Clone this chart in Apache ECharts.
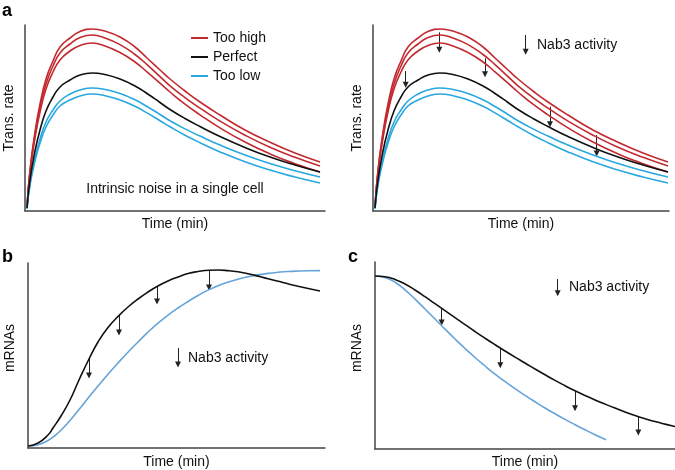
<!DOCTYPE html>
<html>
<head>
<meta charset="utf-8">
<script src="https://cdn.jsdelivr.net/npm/echarts@6/dist/echarts.min.js"></script>
<style>html,body{margin:0;padding:0;background:#fff}#chart{width:675px;height:470px}</style>
</head>
<body>
<div id="chart"></div>
<script>
// ---------- Panel a (transcription rate vs time) ----------
const aTime   = [2,5,10,15,21,28,35,45,55,67,80,95,110,122,135,145,160,175,195,220,245,270,295];
const aHigh1  = [4,41,79,107,132,150,164,173,179.5,182,180,174,164,153,141,132,120,109,96,81,68.8,58,49];
const aHigh2  = [4,40,76,103,127,145,158,167,173.4,176,173.1,166.4,156.5,146.4,134.4,125.2,113.4,102.9,89.9,75.8,63.7,53.7,45];
const aHigh3  = [4,38,73,99,122,139,151,160,165.5,168,165.1,158.5,149,139.2,127.8,119,106.8,96.2,83.1,69,57.1,47.3,39];
const aPerfect= [3,31,60,81,100,114,124,131,136,138,136.5,132,125,117.5,108.5,101.5,92.5,84.5,74.5,63.5,54,46,39];
const aLow1   = [3,28,53,72,89,101,110,117,121,123,121.5,117.5,111.2,104.5,96.5,90.2,82.1,74.9,65.9,56,47.5,40.3,34];
const aLow2   = [2,26,50,68,84,96,105,111,115,117,115.3,111,104.7,98.1,90.3,84.2,75.8,68.3,59.1,49.2,40.9,34,28];
const legendNames = ['Too high','Perfect','Too low'];
// arrows in panel a (right)
const aArrowX    = [32.7,66.3,112,177,223.7];
const aArrowFrom = [140,178.7,152.7,104.3,76];
const aArrowTo   = [123.7,158.7,134.3,84.3,55];
const aKeyArrow  = [152.7,176,156.7];

// ---------- Panel b (mRNAs vs time) ----------
const bTimeBlack = [0,10,20,25,33,42,51,61,70,80,91,100,110,120,129,140,150,160,170,181,190,200,210,220,227,240,255,270,292];
const bBlack     = [2,5,13,20,32,48,68,89,106,120.5,132.5,141,149,156,161.5,167,171,174.5,176.5,177.8,178,177.4,176.2,174.3,172.6,169.2,165.5,161.7,157];
const bTimeBlue  = [0,10,20,30,40,50,60,70,80,90,100,110,120,130,140,150,160,170,180,190,200,210,220,230,240,250,260,270,280,292];
const bBlue      = [2,3.3,7.5,15,25.3,37.3,49.8,62,73.8,85,95.8,106,115.8,124.8,132.8,140,146.5,152.5,157.9,162.3,165.8,168.8,171.2,173.1,174.6,175.7,176.5,177,177.3,177.4];
const bArrowX    = [61,91,129,181];
const bArrowFrom = [89,132.5,161.5,177.8];
const bArrowTo   = [70,113,144,158];
const bKeyArrow  = [150,100,81];

// ---------- Panel c (mRNAs vs time) ----------
const cTimeBlack = [0,10,20,30,40,50,60,70,80,90,100,110,120,130,140,150,160,170,180,190,200,210,220,230,240,250,260,270,280,290,300];
const cBlack     = [173,172.3,169.6,165,159,152.3,145.3,138.3,131.3,124.4,117.5,110.8,104.3,98,91.9,86,80,74.2,68.6,63.3,58.2,53.5,49.1,44.9,40.9,37.1,33.5,30.3,27.4,24.9,22.5];
const cTimeBlue  = [0,10,20,30,40,50,60,70,80,90,100,110,120,130,140,150,160,170,180,190,200,210,220,231];
const cBlue      = [173,171.5,166.8,159.1,149.9,140,130,119.9,110,100.5,91.5,83,74.9,67.4,60.3,53.6,47.2,41,35.2,29.6,24.3,19.2,14.3,9.3];
const cArrowX    = [66.7,125.3,200,263.3];
const cArrowFrom = [141.3,100,58,33];
const cArrowTo   = [124,81.3,38.3,14];
const cKeyArrow  = [182.7,170,153.3];

const FONT = 'Liberation Sans, Arial, Helvetica, sans-serif';
const RED = '#c32a30', BLACK = '#111111', CYAN = '#29a8e0', BLUE = '#66a3d9';
const AXIS = '#444';

function pts(xs, ys){ return xs.map((x,i)=>[x, ys[i]]); }
function curve(name, xs, ys, color, g){
  return {type:'line', name, xAxisIndex:g, yAxisIndex:g, data:pts(xs,ys), smooth:0.5,
    showSymbol:false, symbol:'none', silent:true, animation:false,
    lineStyle:{color, width:1.6}, itemStyle:{color}};
}
function arrows(g, xs, from, to){
  return {type:'lines', coordinateSystem:'cartesian2d', xAxisIndex:g, yAxisIndex:g,
    symbol:['none','triangle'], symbolSize:6, silent:true, animation:false,
    lineStyle:{color:'#222', width:1, opacity:1, curveness:0},
    data: xs.map((x,i)=>({coords:[[x,from[i]],[x,to[i]+2.5]]}))};
}
function xAx(g, max, name, gap){
  return {type:'value', gridIndex:g, min:0, max, axisLine:{show:true, lineStyle:{color:AXIS, width:1.5}},
    axisTick:{show:false}, axisLabel:{show:false}, splitLine:{show:false},
    name, nameLocation:'middle', nameGap:gap, nameTextStyle:{fontFamily:FONT, fontSize:14, color:'#111'}};
}
function yAx(g, max, name, off, gap, pad){
  return {type:'value', gridIndex:g, min:0, max, offset:off, axisLine:{show:true, lineStyle:{color:AXIS, width:1.5}},
    axisTick:{show:false}, axisLabel:{show:false}, splitLine:{show:false},
    name, nameLocation:'middle', nameGap:gap, nameRotate:90,
    nameTextStyle:{fontFamily:FONT, fontSize:14, color:'#111', padding:pad||0}};
}
function txt(x, y, text, opts){
  return Object.assign({type:'text', x, y, silent:true,
    style:Object.assign({text, fontFamily:FONT, fontSize:14, fill:'#111', textVerticalAlign:'middle'}, opts||{})});
}

const chart = echarts.init(document.getElementById('chart'), null, {renderer:'canvas'});
const series = [];
[0,1].forEach(g=>{
  series.push(curve('Too high', aTime, aHigh1, RED, g));
  series.push(curve('Too high', aTime, aHigh2, RED, g));
  series.push(curve('Too high', aTime, aHigh3, RED, g));
  series.push(curve('Too low', aTime, aLow1, CYAN, g));
  series.push(curve('Too low', aTime, aLow2, CYAN, g));
  series.push(curve('Perfect', aTime, aPerfect, BLACK, g));
});
series.push(arrows(1, aArrowX, aArrowFrom, aArrowTo));
series.push(arrows(1, [aKeyArrow[0]], [aKeyArrow[1]], [aKeyArrow[2]]));
series.push(curve('b-low', bTimeBlue, bBlue, BLUE, 2));
series.push(curve('b-normal', bTimeBlack, bBlack, BLACK, 2));
series.push(arrows(2, bArrowX, bArrowFrom, bArrowTo));
series.push(arrows(2, [bKeyArrow[0]], [bKeyArrow[1]], [bKeyArrow[2]]));
series.push(curve('c-low', cTimeBlue, cBlue, BLUE, 3));
series.push(curve('c-normal', cTimeBlack, cBlack, BLACK, 3));
series.push(arrows(3, cArrowX, cArrowFrom, cArrowTo));
series.push(arrows(3, [cKeyArrow[0]], [cKeyArrow[1]], [cKeyArrow[2]]));

chart.setOption({
  backgroundColor:'#fff',
  animation:false,
  textStyle:{fontFamily:FONT},
  grid:[
    {left:25, top:25, width:300, height:186},
    {left:373, top:25, width:296, height:186},
    {left:28, top:263, width:297, height:185},
    {left:375, top:262, width:300, height:187}
  ],
  xAxis:[xAx(0,300,'Time (min)',6), xAx(1,296,'Time (min)',6), xAx(2,297,'Time (min)',7), xAx(3,300,'Time (min)',6)],
  yAxis:[yAx(0,186,'Trans. rate',3,6), yAx(1,186,'Trans. rate',4,5), yAx(2,185,'mRNAs',5,6,[0,0,0,15]), yAx(3,187,'mRNAs',5,6,[0,0,0,15])],
  legend:{data:legendNames, left:186, top:26, orient:'vertical', icon:'rect', itemWidth:17, itemHeight:2,
    itemGap:5, textStyle:{fontFamily:FONT, fontSize:14, color:'#111'}, selectedMode:false},
  graphic:[
    txt(2, 11, 'a', {fontSize:18, fontWeight:'bold', fill:'#000'}),
    txt(2, 257, 'b', {fontSize:18, fontWeight:'bold', fill:'#000'}),
    txt(348, 257, 'c', {fontSize:18, fontWeight:'bold', fill:'#000'}),
    txt(175, 189, 'Intrinsic noise in a single cell', {textAlign:'center'}),
    txt(537, 45, 'Nab3 activity'),
    txt(188, 358, 'Nab3 activity'),
    txt(569, 287, 'Nab3 activity')
  ],
  series
});
</script>
</body>
</html>
